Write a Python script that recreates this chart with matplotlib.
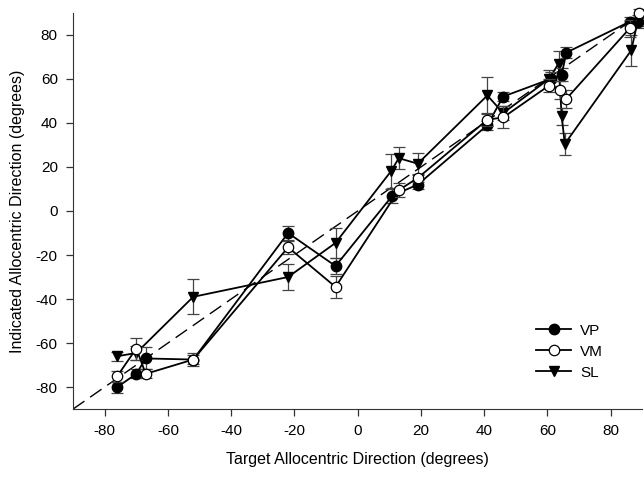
import matplotlib
matplotlib.use('Agg')
import matplotlib.pyplot as plt
from matplotlib.lines import Line2D

plt.rcParams['font.family'] = ['Liberation Sans', 'DejaVu Sans']
plt.rcParams['axes.unicode_minus'] = False

# target direction (x), indicated direction (y) and error bars, degrees
vp_x = [-76, -70, -67, -52, -22, -7, 11, 19, 41, 46, 61, 64.5, 66, 86, 88.5]
vp_y = [-80, -74, -67, -67.5, -10, -25, 7, 12, 39, 52, 60, 62, 72, 86, 86]
vp_err = [2.5, 2, 5, 2, 3, 3.5, 3.5, 2, 2, 2, 3, 3, 2.5, 2, 2]

vm_x = [-76, -70, -67, -52, -22, -7, 13, 19, 41, 46, 60.5, 64, 66, 86, 89]
vm_y = [-75, -62.5, -74, -67.5, -16.5, -34.5, 9.5, 15, 41.5, 42.5, 57, 55, 51, 83, 90]
vm_err = [2.5, 5, 2, 3, 3, 5, 3, 2, 3, 5, 3, 4, 4, 4, 2]

sl_x = [-76, -70, -52, -22, -7, 10.5, 13, 19, 41, 46, 60.5, 63.5, 64.5, 65.5, 86.5, 88.5]
sl_y = [-66, -64.5, -39, -30, -14.5, 18, 24, 21.5, 52.5, 44.5, 60, 67, 43, 30.5, 73, 86]
sl_err = [2, 3, 8, 6, 7, 8, 5, 5, 8.5, 3, 4, 5.5, 4, 5, 7, 3]

ticks = [-80, -60, -40, -20, 0, 20, 40, 60, 80]

fig = plt.figure(figsize=(6.44, 4.79), dpi=100)
ax = fig.add_axes([0.1134, 0.146, 0.884, 0.827])

# ideal performance
ax.plot([-90, 90], [-90, 90], color='black', lw=1.0, dashes=(10, 5), zorder=1)

common = dict(color='black', ecolor='#444444', elinewidth=0.9, capsize=4,
              capthick=0.9, lw=1.3, ms=7.5, clip_on=False)
ax.errorbar(sl_x, sl_y, yerr=sl_err, marker='v', mfc='black', mec='black',
            zorder=3, **common)
ax.errorbar(vp_x, vp_y, yerr=vp_err, marker='o', mfc='black', mec='black',
            zorder=4, **common)
ax.errorbar(vm_x, vm_y, yerr=vm_err, marker='o', mfc='white', mec='black',
            mew=0.9, zorder=5, **common)

ax.set_xlim(-90, 90)
ax.set_ylim(-90, 90)
ax.set_xticks(ticks)
ax.set_yticks(ticks)
for s in ['top', 'right']:
    ax.spines[s].set_visible(False)
for s in ['left', 'bottom']:
    ax.spines[s].set_color('#333333')
ax.tick_params(direction='out', length=5, width=0.9, labelsize=11, pad=6,
               color='#333333')

ax.set_xlabel('Target Allocentric Direction (degrees)', fontsize=11.5, labelpad=10)
ax.set_ylabel('Indicated Allocentric Direction (degrees)', fontsize=11.5, labelpad=8)

handles = [
    Line2D([], [], color='black', lw=1.3, marker='o', ms=7.5, mfc='black', mec='black'),
    Line2D([], [], color='black', lw=1.3, marker='o', ms=7.5, mfc='white', mec='black', mew=0.9),
    Line2D([], [], color='black', lw=1.3, marker='v', ms=7.5, mfc='black', mec='black'),
]
ax.legend(handles, ['VP', 'VM', 'SL'], loc='center left',
          bbox_to_anchor=(0.80, 0.145), frameon=False, fontsize=11,
          handlelength=2.3, handletextpad=0.6, labelspacing=0.45, borderpad=0)

fig.savefig('out.png', dpi=100)
